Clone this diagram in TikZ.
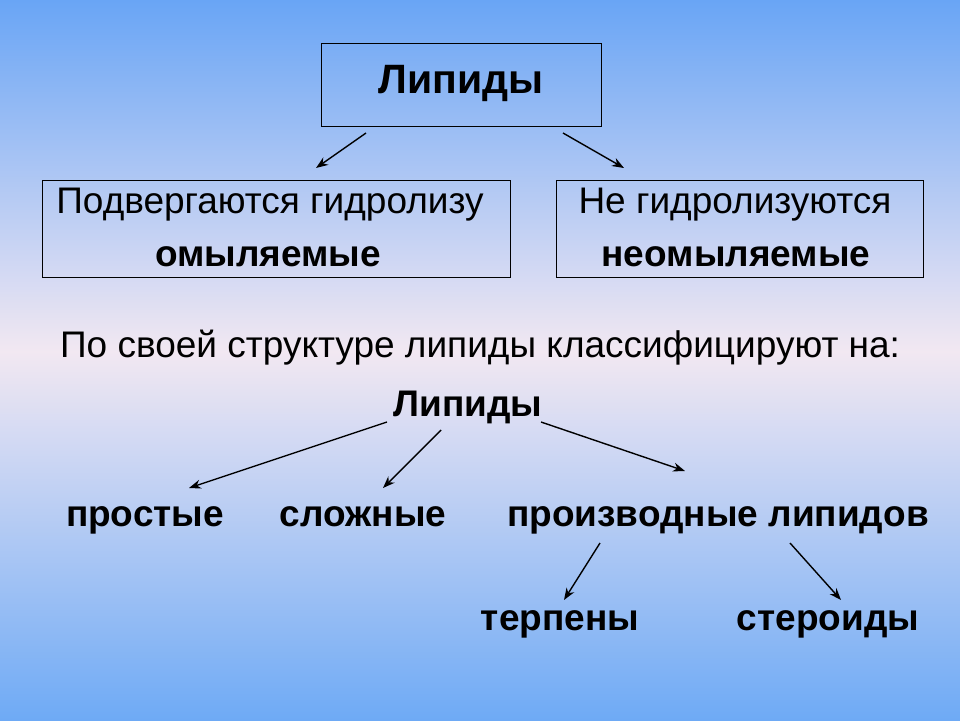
\documentclass[tikz,border=0pt]{standalone}
\usepackage{fontspec}
\usetikzlibrary{arrows.meta}
\setmainfont{Liberation Sans}
\begin{document}
\begin{tikzpicture}[x=1pt,y=-1pt,
  box/.style={draw=black,line width=1pt,fill=none},
  arr/.style={-{Stealth[length=12pt,width=9pt]},line width=1.4pt},
  t/.style={font=\fontsize{37}{40}\selectfont,inner sep=0pt,anchor=base},
  tb/.style={font=\fontsize{37}{40}\selectfont\bfseries,inner sep=0pt,anchor=base}]
\useasboundingbox (0,0) rectangle (960,720);
\shade[top color={rgb,255:red,105;green,165;blue,245}, bottom color={rgb,255:red,242;green,232;blue,242}] (0,0) rectangle (960,352);
\shade[top color={rgb,255:red,242;green,232;blue,242}, bottom color={rgb,255:red,110;green,170;blue,245}] (0,351) rectangle (960,720);
\node[box,minimum width=280pt,minimum height=83pt] (top) at (461,84.5) {};
\node[tb,font=\fontsize{41}{44}\selectfont\bfseries] (topt) at (461,93) {Липиды};
\node[box,minimum width=468pt,minimum height=97pt] (lb) at (276,228.5) {};
\node[box,minimum width=367pt,minimum height=97pt] (rb) at (739.5,228.5) {};
\node[t] (l1) at (270,213) {Подвергаются гидролизу};
\node[tb] (l2) at (268,266) {омыляемые};
\node[t] (r1) at (735,213) {Не гидролизуются};
\node[tb] (r2) at (736,266) {неомыляемые};
\node[t] (cls) at (480,357) {По своей структуре липиды классифицируют на:};
\node[tb] (lip) at (468,416) {Липиды};
\node[tb] (p1) at (145,526) {простые};
\node[tb] (p2) at (363,526) {сложные};
\node[tb] (p3) at (718,526) {производные липидов};
\node[tb] (p4) at (560,630) {терпены};
\node[tb] (p5) at (828,630) {стероиды};
\coordinate (a1s) at (366,133); \coordinate (a1e) at (316,168);
\coordinate (a2s) at (563,133); \coordinate (a2e) at (624,168);
\coordinate (b1s) at (387,422); \coordinate (b1e) at (189,488);
\coordinate (b2s) at (441,430); \coordinate (b2e) at (383,488);
\coordinate (b3s) at (541,422); \coordinate (b3e) at (685,471);
\coordinate (c1s) at (600,543); \coordinate (c1e) at (564,600);
\coordinate (c2s) at (790,543); \coordinate (c2e) at (841,600);
\draw[arr] (a1s) -- (a1e);
\draw[arr] (a2s) -- (a2e);
\draw[arr] (b1s) -- (b1e);
\draw[arr] (b2s) -- (b2e);
\draw[arr] (b3s) -- (b3e);
\draw[arr] (c1s) -- (c1e);
\draw[arr] (c2s) -- (c2e);
\end{tikzpicture}
\end{document}
